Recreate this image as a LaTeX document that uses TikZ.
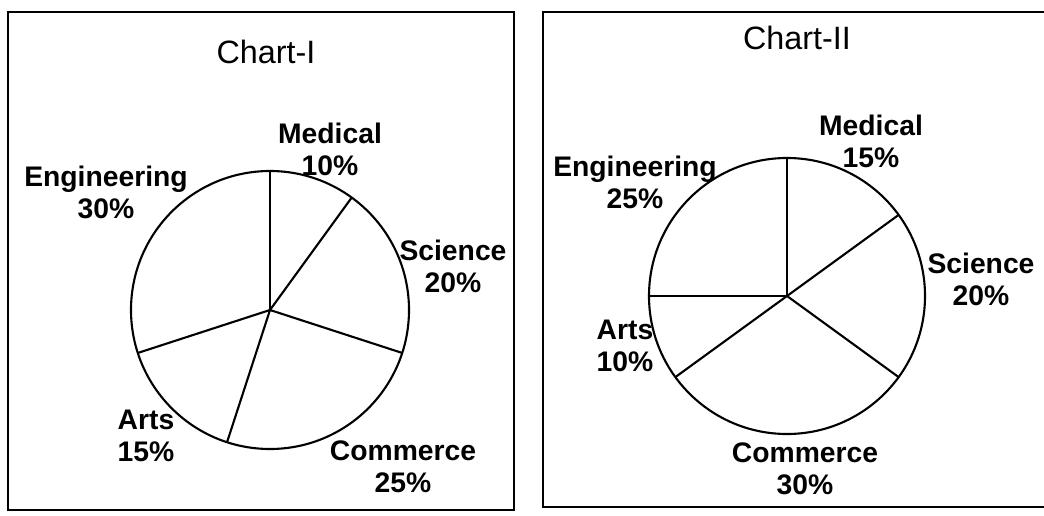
\documentclass[tikz,border=0pt]{standalone}
\usepackage{fontspec}
\setmainfont{Liberation Sans}
\tikzset{
  lbl/.style={align=center, inner sep=0pt, font=\fontsize{16.1}{18.2}\selectfont\bfseries},
  ttl/.style={inner sep=0pt, font=\fontsize{18.4}{22}\selectfont},
  frame/.style={line width=1.5pt},
  pie/.style={line width=1.2pt}
}
\begin{document}
\begin{tikzpicture}[x=0.02cm, y=0.02cm]
\useasboundingbox (0,0) rectangle (1044,515);
% Chart-I
\draw[frame] (8,5) rectangle (514,503);
\node[ttl] (t1) at (266,463) {Chart-I};
\coordinate (c1) at (270,205);
\draw[pie] (c1) circle[radius=139];
\foreach \a in {90,54,-18,-108,198} \draw[pie] (c1) -- ++(\a:139);
\node[lbl] (med1) at (330,366) {Medical\\10\%};
\node[lbl] (eng1) at (106,323) {Engineering\\30\%};
\node[lbl] (sci1) at (453,249) {Science\\20\%};
\node[lbl] (art1) at (146,79) {Arts\\15\%};
\node[lbl] (com1) at (403,48) {Commerce\\25\%};
% Chart-II
\draw[frame] (1044,503) -- (543,503) -- (543,8) -- (1044,8);
\node[ttl] (t2) at (797,477) {Chart-II};
\coordinate (c2) at (787,219);
\draw[pie] (c2) circle[radius=138];
\foreach \a in {90,36,-36,-144,180} \draw[pie] (c2) -- ++(\a:138);
\node[lbl] (med2) at (871,374) {Medical\\15\%};
\node[lbl] (eng2) at (635,333) {Engineering\\25\%};
\node[lbl] (sci2) at (981,236) {Science\\20\%};
\node[lbl] (art2) at (625,169) {Arts\\10\%};
\node[lbl] (com2) at (805,46) {Commerce\\30\%};
\end{tikzpicture}
\end{document}
